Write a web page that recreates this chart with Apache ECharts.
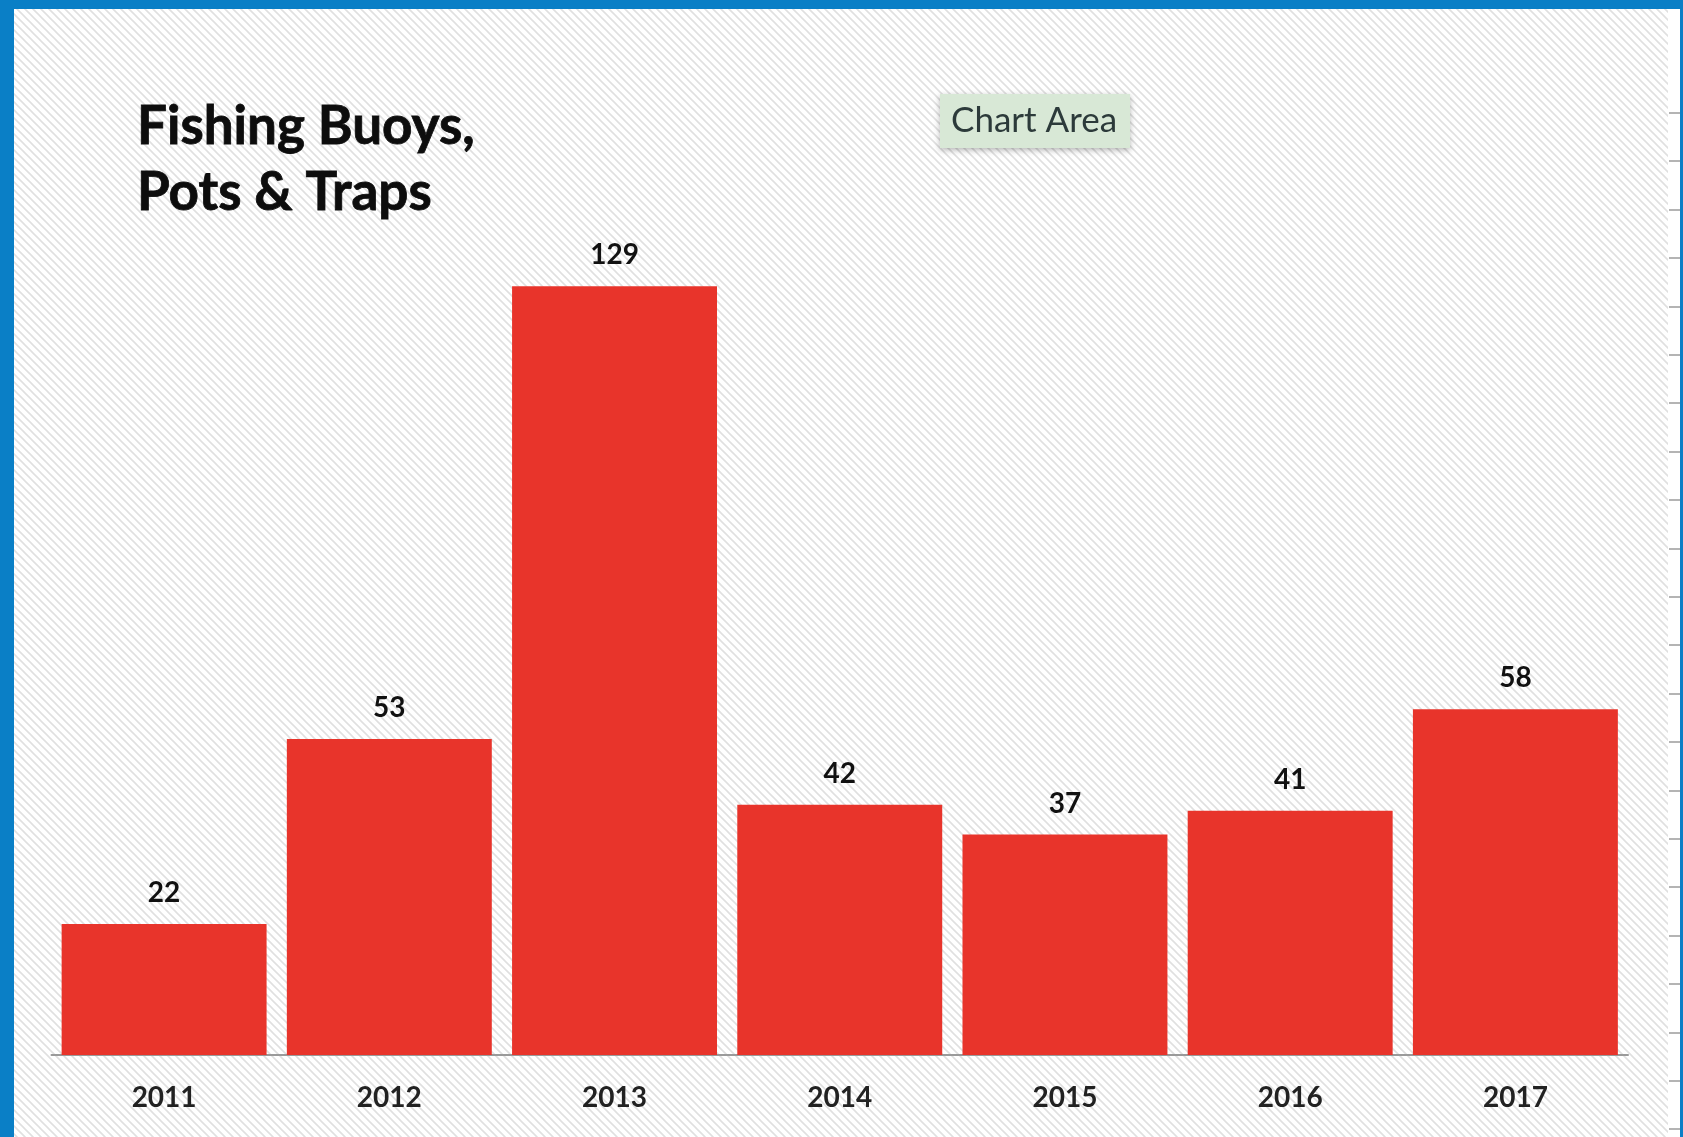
<!DOCTYPE html>
<html>
<head>
<meta charset="utf-8">
<title>Fishing Buoys, Pots & Traps</title>
<script src="https://cdn.jsdelivr.net/npm/echarts@6/dist/echarts.min.js"></script>
<style>
  html, body { margin: 0; padding: 0; background: #ffffff; }
  #chart { width: 1683px; height: 1137px; }
</style>
</head>
<body>
<div id="chart"></div>
<script>
// data
var years = ['2011', '2012', '2013', '2014', '2015', '2016', '2017'];
var counts = [22, 53, 129, 42, 37, 41, 58];

var titleLines = ['Fishing Buoys,', 'Pots & Traps'];

// light diagonal hatch like the spreadsheet chart area
function makeHatch() {
    var n = 8;
    var c = document.createElement('canvas');
    c.width = n;
    c.height = n;
    var ctx = c.getContext('2d');
    ctx.fillStyle = '#ffffff';
    ctx.fillRect(0, 0, n, n);
    ctx.strokeStyle = '#e0e0e0';
    ctx.lineWidth = 1.6;
    ctx.beginPath();
    ctx.moveTo(-1, -1); ctx.lineTo(n + 1, n + 1);
    ctx.moveTo(-n - 1, -1); ctx.lineTo(1, n + 1);
    ctx.moveTo(n - 1, -1); ctx.lineTo(2 * n + 1, n + 1);
    ctx.stroke();
    return c;
}

// little ruler ticks on the right edge
var rulerTicks = [];
for (var k = 0; k < 22; k++) {
    var ty = Math.round(113 + k * 48.4);
    rulerTicks.push({
        type: 'line',
        shape: { x1: 1669, y1: ty, x2: 1680, y2: ty },
        style: { stroke: '#b4b4b4', lineWidth: 2 },
        silent: true
    });
}

var myChart = echarts.init(document.getElementById('chart'));

var option = {
    backgroundColor: { image: makeHatch(), repeat: 'repeat' },
    animation: false,
    title: [
        {
            text: titleLines.join('\n'),
            left: 132,
            top: 89,
            textStyle: {
                fontFamily: 'Lato',
                fontWeight: 'bold',
                fontSize: 53,
                lineHeight: 66,
                color: '#0d0d0d',
                textBorderColor: '#0d0d0d',
                textBorderWidth: 0.8
            }
        },
        {
            text: 'Chart Area',
            left: 940,
            top: 94,
            padding: [9, 13, 10, 11],
            backgroundColor: '#d8e8d6',
            shadowBlur: 6,
            shadowColor: 'rgba(0,0,0,0.3)',
            shadowOffsetY: 2,
            textStyle: {
                fontFamily: 'Lato',
                fontWeight: 'normal',
                fontSize: 35,
                color: '#2c3a3a'
            }
        }
    ],
    grid: {
        left: 51.5,
        right: 55,
        top: 161,
        bottom: 82,
        containLabel: false
    },
    xAxis: {
        type: 'category',
        data: years,
        axisLine: { show: true, lineStyle: { color: '#9a9a9a', width: 2 } },
        axisTick: { show: false },
        axisLabel: {
            margin: 29,
            fontFamily: 'Lato',
            fontWeight: 'bold',
            fontSize: 28,
            color: '#222222'
        }
    },
    yAxis: {
        type: 'value',
        min: 0,
        max: 150,
        show: false,
        splitLine: { show: false }
    },
    series: [
        {
            type: 'bar',
            data: counts,
            barCategoryGap: '9%',
            itemStyle: { color: '#e8342b' },
            label: {
                show: true,
                position: 'top',
                distance: 17,
                fontFamily: 'Lato',
                fontWeight: 'bold',
                fontSize: 28,
                color: '#111111'
            }
        }
    ],
    graphic: [
        { type: 'rect', shape: { x: 1668, y: 0, width: 12, height: 1137 }, style: { fill: '#ffffff' }, silent: true },
        { type: 'rect', shape: { x: 0, y: 0, width: 1683, height: 9 }, style: { fill: '#0a7fc6' }, silent: true },
        { type: 'rect', shape: { x: 0, y: 0, width: 14, height: 1137 }, style: { fill: '#0a7fc6' }, silent: true },
        { type: 'rect', shape: { x: 1680, y: 0, width: 3, height: 1137 }, style: { fill: '#0a7fc6' }, silent: true }
    ].concat(rulerTicks)
};

myChart.setOption(option);
</script>
</body>
</html>
